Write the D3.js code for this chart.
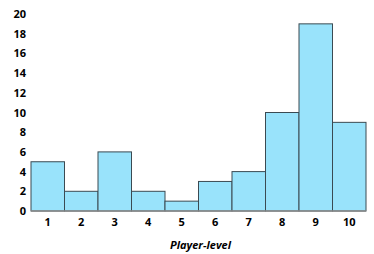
<!DOCTYPE html>
<html>
<head>
<meta charset="utf-8">
<script src="https://cdn.jsdelivr.net/npm/d3@7"></script>
<style>
  html, body { margin: 0; padding: 0; background: #ffffff; }
  svg { display: block; }
  .tick text { font-family: "Open Sans", sans-serif; font-weight: bold; font-size: 11px; fill: #000; }
</style>
</head>
<body>
<svg id="chart" width="374" height="254"></svg>
<script>
// Player levels on the x axis
const levels = ['1', '2', '3', '4', '5', '6', '7', '8', '9', '10'];
// Count per level
const counts = [5, 2, 6, 2, 1, 3, 4, 10, 19, 9];
// Y tick values
const yTicks = [0, 2, 4, 6, 8, 10, 12, 14, 16, 18, 20];
const xTitle = 'Player-level';

const margin = { top: 14, right: 8, bottom: 43, left: 31 };
const svg = d3.select('#chart');
const width = 374 - margin.left - margin.right;
const height = 254 - margin.top - margin.bottom;

const chart = svg.append('g')
    .attr('transform', `translate(${margin.left}, ${margin.top})`);

const xScale = d3.scaleBand().domain(levels).range([0, width]).padding(0);
const yScale = d3.scaleLinear().domain([0, 20]).range([height, 0]);

// Bars
chart.selectAll('.bar')
    .data(counts)
    .join('rect')
    .attr('class', 'bar')
    .attr('x', (d, i) => xScale(levels[i]))
    .attr('y', (d) => yScale(d))
    .attr('width', xScale.bandwidth())
    .attr('height', (d) => height - yScale(d))
    .attr('fill', '#99e3fb')
    .attr('stroke', '#3b4a52')
    .attr('stroke-width', 1);

// Baseline
chart.append('line')
    .attr('x1', 0).attr('x2', width)
    .attr('y1', height).attr('y2', height)
    .attr('stroke', '#8c8c8c')
    .attr('stroke-width', 1.5);

// Y axis (labels only)
const yAxis = chart.append('g')
    .call(d3.axisLeft(yScale).tickValues(yTicks).tickSize(0).tickPadding(5));
yAxis.select('.domain').remove();

// X axis (labels only)
const xAxis = chart.append('g')
    .attr('transform', `translate(0, ${height})`)
    .call(d3.axisBottom(xScale).tickSize(0).tickPadding(7));
xAxis.select('.domain').remove();

// X title
svg.append('text')
    .attr('x', margin.left + width / 2 + 2)
    .attr('y', 249)
    .attr('text-anchor', 'middle')
    .attr('font-family', '"Open Sans", sans-serif')
    .attr('font-size', 11)
    .attr('font-weight', 'bold')
    .attr('font-style', 'italic')
    .text(xTitle);
</script>
</body>
</html>
